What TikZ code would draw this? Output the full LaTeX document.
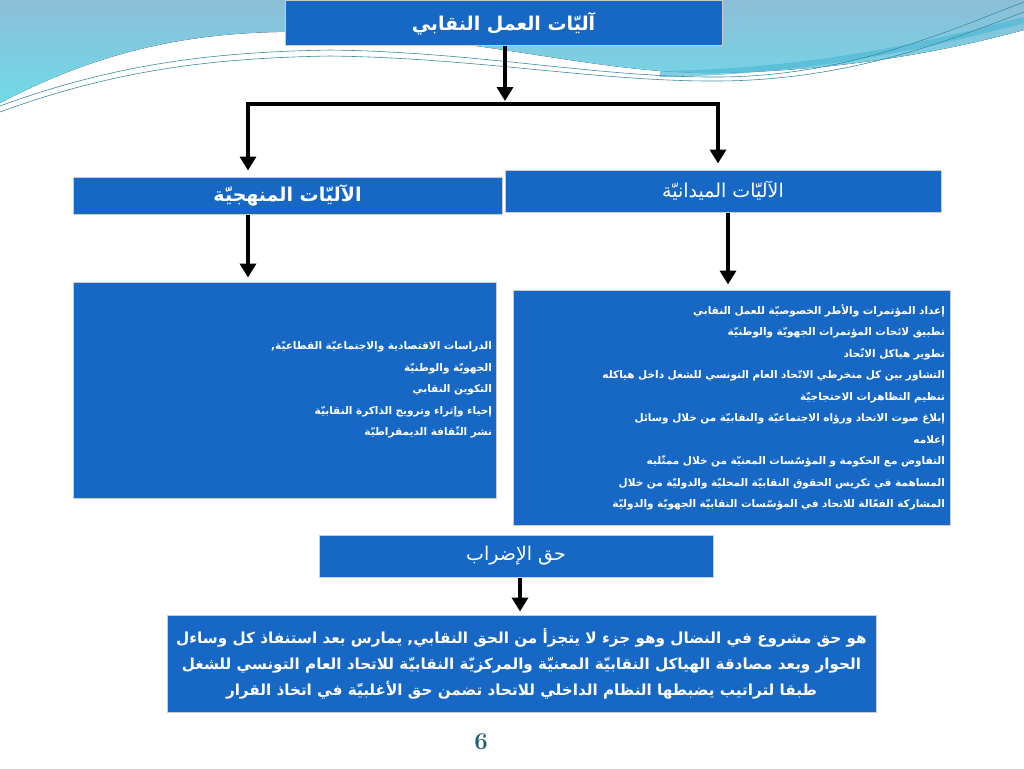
\documentclass[tikz,border=0pt]{standalone}
\usepackage{fontspec}
\newfontfamily\arabicfont[Script=Arabic]{DejaVu Sans}
\TeXXeTstate=1
\usetikzlibrary{positioning,arrows.meta,calc}
\definecolor{boxblue}{RGB}{22,104,196}
\definecolor{pagenum}{RGB}{30,95,110}
\definecolor{wavetop}{RGB}{140,190,215}
\definecolor{wavebot}{RGB}{112,218,234}
\definecolor{waveband}{RGB}{80,185,215}
\definecolor{wavecol}{RGB}{60,140,160}
\newcommand{\rtl}[1]{\beginR #1\endR}
\tikzset{
  bluebox/.style={rectangle,fill=boxblue,draw=white!80!black,line width=1pt,
    text=white,inner sep=0pt},
  headtxt/.style={font=\arabicfont\bfseries\fontsize{19}{22}\selectfont},
  listtxt/.style={font=\arabicfont\bfseries\fontsize{10.5}{21.5}\selectfont,align=right},
  conn/.style={-{Triangle[length=14pt,width=16pt]},line width=3.5pt},
  barline/.style={line width=3.5pt,line cap=rect},
  waveln/.style={line width=0.6pt,wavecol},
}
\begin{document}
\begin{tikzpicture}[x=1pt,y=-1pt]
  \useasboundingbox (0,0) rectangle (1024,768);
  % top wave
  \fill[top color=wavetop,bottom color=wavebot]
    (0,0) -- (1024,0) -- (1024,30) .. controls (950,50) and (850,70) .. (720,73)
    .. controls (600,75) and (480,36) .. (320,32)
    .. controls (220,30) and (120,40) .. (0,103) -- cycle;
  \draw[line width=6pt,waveband,opacity=0.7] (660,74) .. controls (800,72) and (920,48) .. (1024,20);
  \draw[waveln] (0,106) .. controls (120,62) and (220,52) .. (330,50) .. controls (480,52) and (600,78) .. (720,77) .. controls (850,76) and (950,30) .. (1024,2);
  \draw[waveln] (0,112) .. controls (120,68) and (220,58) .. (330,56) .. controls (480,58) and (600,82) .. (720,81) .. controls (850,80) and (950,40) .. (1024,12);

  % boxes
  \node[bluebox,headtxt,minimum width=437pt,minimum height=45pt] (title) at (503.5,23.5)
    {\rtl{آليّات العمل النقابي}};
  \node[bluebox,headtxt,minimum width=429pt,minimum height=37pt] (lhead) at (287.5,195.5)
    {\rtl{الآليّات المنهجيّة}};
  \node[bluebox,font=\arabicfont\fontsize{19}{22}\selectfont,minimum width=436pt,minimum height=42pt] (rhead) at (723,191)
    {\rtl{الآليّات الميدانيّة}};

  \node[bluebox,listtxt,text width=415pt,minimum width=423pt,minimum height=216pt] (lbox) at (284.5,390)
    {\rtl{الدراسات الاقتصادية والاجتماعيّة القطاعيّة,}\\
     \rtl{الجهويّة والوطنيّة}\\
     \rtl{التكوين النقابي}\\
     \rtl{إحياء وإثراء وترويج الذاكرة النقابيّة}\\
     \rtl{نشر الثّقافة الديمقراطيّة}};
  \node[bluebox,listtxt,text width=427pt,minimum width=437pt,minimum height=235pt] (rbox) at (731.5,407.5)
    {\rtl{إعداد المؤتمرات والأطر الخصوصيّة للعمل النقابي}\\
     \rtl{تطبيق لائحات المؤتمرات الجهويّة والوطنيّة}\\
     \rtl{تطوير هياكل الاتّحاد}\\
     \rtl{التشاور بين كل منخرطي الاتّحاد العام التونسي للشغل داخل هياكله}\\
     \rtl{تنظيم التظاهرات الاحتجاجيّة}\\
     \rtl{إبلاغ صوت الاتحاد ورؤاه الاجتماعيّة والنقابيّة من خلال وسائل}\\
     \rtl{إعلامه}\\
     \rtl{التفاوض مع  الحكومة و المؤسّسات المعنيّة من خلال ممثّليه}\\
     \rtl{المساهمة في تكريس الحقوق النقابيّة المحليّة والدوليّة  من خلال}\\
     \rtl{المشاركة الفعّالة للاتحاد في المؤسّسات النقابيّة الجهويّة والدوليّة}};

  \node[bluebox,font=\arabicfont\fontsize{19}{22}\selectfont,minimum width=394pt,minimum height=42pt] (strike) at (516,556)
    {\rtl{حق الإضراب}};
  \node[bluebox,font=\arabicfont\bfseries\fontsize{15.2}{26}\selectfont,align=center,
    minimum width=709pt,minimum height=97pt] (rule) at (521.5,663.5)
    {\rtl{هو حق مشروع في النضال وهو جزء لا يتجزأ من الحق النقابي, يمارس بعد استنفاذ كل وساءل}\\
     \rtl{الحوار وبعد مصادقة الهياكل النقابيّة المعنيّة والمركزيّة النقابيّة للاتحاد العام التونسي للشغل}\\
     \rtl{طبقا لتراتيب يضبطها  النظام الداخلي للاتحاد تضمن حق الأغلبيّة في اتخاذ القرار}};

  \node[font=\bfseries\fontsize{24}{26}\selectfont,text=pagenum] (pg) at (481,742) {6};

  % connectors
  \coordinate (jn) at (505,104);
  \coordinate (jl) at (248,104);
  \coordinate (jr) at (718,104);
  \draw[conn,shorten >=3pt] (title.south -| jn) -- (jn);
  \draw[barline] (jl) -- (jr);
  \draw[conn,shorten >=6pt] (jl) -- (jl |- lhead.north);
  \draw[conn,shorten >=6pt] (jr) -- (jr |- rhead.north);
  \draw[conn,shorten >=4pt] (lhead.south -| jl) -- (jl |- lbox.north);
  \draw[conn,shorten >=5pt] ([xshift=10pt]jr |- rhead.south) -- ([xshift=10pt]jr |- rbox.north);
  \draw[conn,shorten >=3pt] ([xshift=4pt]strike.south) -- ([xshift=4pt]strike.south |- rule.north);
\end{tikzpicture}
\end{document}
